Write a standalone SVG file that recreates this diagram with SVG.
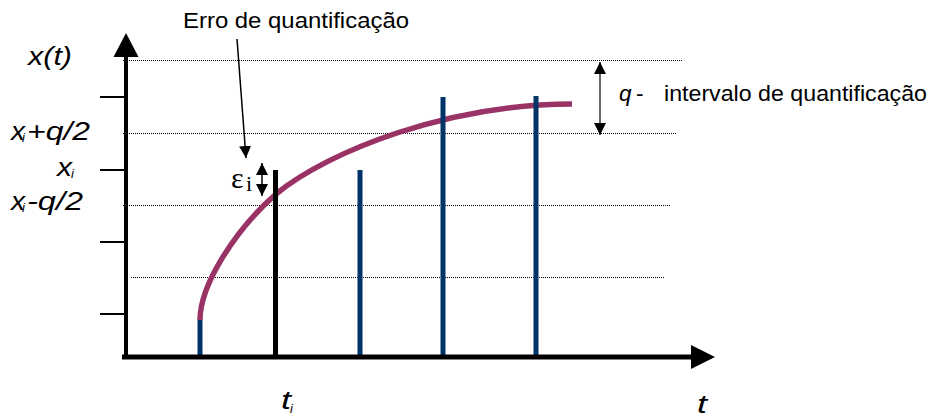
<svg xmlns="http://www.w3.org/2000/svg" width="942" height="417" viewBox="0 0 942 417">
  <style>
    .lbl { font-family: "Liberation Sans", Arial, sans-serif; fill: #000; }
    .it { font-style: italic; }
    .dot { stroke: #000; stroke-width: 1; stroke-dasharray: 1 1; fill: none; }
    .tick { stroke: #000; stroke-width: 2; }
    .bar { stroke: #003366; stroke-width: 5; }
    .ptr { stroke: #000; stroke-width: 1.5; fill: none; }
    .eps { font-family: "Liberation Serif", "Times New Roman", serif; fill: #000; }
  </style>
  <defs>
    <marker id="ah" viewBox="0 0 12 12" markerWidth="12" markerHeight="12" refX="12" refY="6" orient="auto-start-reverse" markerUnits="userSpaceOnUse">
      <path d="M0,0 L12,6 L0,12 z" fill="#000"/>
    </marker>
  </defs>
  <rect width="942" height="417" fill="#fff"/>

  <g id="grid">
    <line class="dot" x1="123" y1="60.5" x2="683" y2="60.5"/>
    <line class="dot" x1="123" y1="133.5" x2="677" y2="133.5"/>
    <line class="dot" x1="123" y1="205.5" x2="670" y2="205.5"/>
    <line class="dot" x1="131" y1="277.5" x2="664" y2="277.5"/>
  </g>

  <g id="ticks">
    <line class="tick" x1="100" y1="97" x2="126" y2="97"/>
    <line class="tick" x1="100" y1="170" x2="126" y2="170"/>
    <line class="tick" x1="100" y1="242" x2="126" y2="242"/>
    <line class="tick" x1="100" y1="314" x2="126" y2="314"/>
  </g>

  <g id="curve">
    <path d="M200,320 C200,285 235,230 276,194 C330,150 450,104 572,104" fill="none" stroke="#993366" stroke-width="5.5"/>
  </g>

  <g id="samples">
    <line class="bar" x1="200" y1="320" x2="200" y2="356"/>
    <line x1="275.5" y1="170" x2="275.5" y2="356" stroke="#000" stroke-width="5"/>
    <line class="bar" x1="360" y1="170" x2="360" y2="356"/>
    <line class="bar" x1="443" y1="97" x2="443" y2="356"/>
    <line class="bar" x1="536" y1="96" x2="536" y2="356"/>
  </g>

  <g id="axes">
    <line x1="126" y1="55" x2="126" y2="359" stroke="#000" stroke-width="4"/>
    <polygon points="126,33 138.5,57 113.5,57" fill="#000"/>
    <line x1="122" y1="357" x2="693" y2="357" stroke="#000" stroke-width="5"/>
    <polygon points="715,357 691,345 691,369" fill="#000"/>
  </g>

  <g id="connectors">
    <line class="ptr" x1="237" y1="39" x2="246" y2="158" marker-end="url(#ah)"/>
    <line class="ptr" x1="262" y1="163" x2="262" y2="196" marker-start="url(#ah)" marker-end="url(#ah)"/>
    <line x1="600" y1="62" x2="600" y2="135" stroke="#333" stroke-width="1.5" marker-start="url(#ah)" marker-end="url(#ah)"/>
  </g>

  <g id="labels">
    <text class="lbl" x="183" y="28" font-size="22.5" textLength="226" lengthAdjust="spacingAndGlyphs">Erro de quantificação</text>

    <text class="lbl it" x="619" y="101" font-size="22.5">q</text>
    <text class="lbl" x="636" y="101" font-size="22.5">-</text>
    <text class="lbl" x="664" y="101" font-size="22.5" textLength="263" lengthAdjust="spacingAndGlyphs">intervalo de quantificação</text>

    <text class="lbl it" x="28" y="65" font-size="25" textLength="44" lengthAdjust="spacingAndGlyphs">x(t)</text>

    <text class="lbl it" x="11" y="140" font-size="25" textLength="14" lengthAdjust="spacingAndGlyphs">x</text>
    <text class="lbl it" x="22" y="142" font-size="13">i</text>
    <text class="lbl it" x="27" y="140" font-size="25" textLength="63" lengthAdjust="spacingAndGlyphs">+q/2</text>

    <text class="lbl it" x="57" y="176" font-size="25" textLength="15" lengthAdjust="spacingAndGlyphs">x</text>
    <text class="lbl it" x="71" y="178" font-size="13">i</text>

    <text class="lbl it" x="11" y="210" font-size="25" textLength="14" lengthAdjust="spacingAndGlyphs">x</text>
    <text class="lbl it" x="22" y="212" font-size="13">i</text>
    <text class="lbl it" x="27" y="210" font-size="25" textLength="56" lengthAdjust="spacingAndGlyphs">-q/2</text>

    <text class="eps" x="231" y="188" font-size="30">ε</text>
    <text class="eps" x="246" y="191" font-size="22">i</text>

    <text class="lbl it" x="281" y="409" font-size="25" textLength="10" lengthAdjust="spacingAndGlyphs">t</text>
    <text class="lbl it" x="290" y="413" font-size="13">i</text>

    <text class="lbl it" x="697" y="413" font-size="25" textLength="10" lengthAdjust="spacingAndGlyphs">t</text>
  </g>
</svg>
